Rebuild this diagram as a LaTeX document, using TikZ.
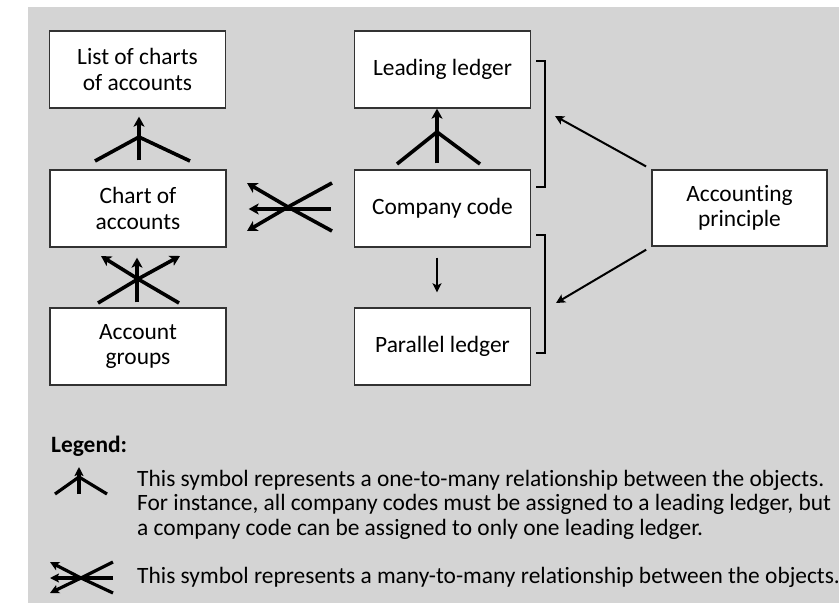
\documentclass[tikz,border=0pt]{standalone}
\usepackage{fontspec}
\setmainfont{Carlito}[Ligatures={NoCommon,NoDiscretionary,NoContextual}]
\usetikzlibrary{arrows.meta}
\definecolor{bggray}{RGB}{212,212,212}
\definecolor{boxline}{RGB}{50,50,50}
\begin{document}
\begin{tikzpicture}[x=1bp,y=-1bp,
  objbox/.style={draw=boxline,line width=1.3bp,fill=white,minimum width=176bp,minimum height=77bp,inner sep=0pt,align=center,font=\fontsize{23.5}{25.5}\selectfont},
  symline/.style={line width=3.6bp,line cap=butt},
  symarrow/.style={symline,-{Stealth[length=10bp,width=11bp,inset=2.5bp]}},
  thinarrow/.style={line width=2bp,-{Stealth[length=9bp,width=9bp,inset=2bp]}},
  legarrow/.style={symline,line width=3.2bp,-{Stealth[length=9bp,width=9bp,inset=2bp]}},
  bracketline/.style={line width=2.6bp},
  legendtext/.style={anchor=base west,inner sep=0pt,font=\fontsize{23.5}{25}\selectfont}]
\useasboundingbox (0,0) rectangle (839,613);
\fill[bggray] (28,7) rectangle (839,603);
% objects
\node[objbox] (lca) at (137.5,69.5) {List of charts\\of accounts};
\node[objbox] (coa) at (138,208.5) {Chart of\\accounts};
\node[objbox] (ag) at (138,346.5) {Account\\groups};
\node[objbox] (ll) at (442.5,69.5) {Leading ledger};
\node[objbox] (cc) at (442.5,208.5) {Company code};
\node[objbox] (pl) at (442.5,346.5) {Parallel ledger};
\node[objbox,minimum width=175bp,minimum height=76bp] (ap) at (739.5,208) {Accounting\\principle};
% one-to-many: chart of accounts -> list of charts
\coordinate (o1) at (139,137);
\draw[symline] (95,161) -- (o1) -- (190,161);
\draw[symarrow,shorten <=9bp,shorten >=8bp] ([xshift=1bp]coa.north) -- ([xshift=1.5bp]lca.south);
% one-to-many: company code -> leading ledger
\coordinate (o2) at (437,132);
\draw[symline] (397,164) -- (o2) -- (480,164);
\draw[symarrow,shorten <=6bp] ([xshift=-5.5bp]cc.north) -- ([xshift=-5.5bp]ll.south);
% many-to-many: company code <-> chart of accounts
\coordinate (m1) at (288,207);
\draw[symarrow,shorten <=23bp,shorten >=22bp] ([yshift=-0.5bp]cc.west) -- ([yshift=-0.5bp]coa.east);
\draw[symarrow] (332,183) -- (m1) -- (247,231);
\draw[symarrow] (332,231) -- (m1) -- (247,183);
% many-to-many: account groups <-> chart of accounts
\coordinate (m2) at (138,279);
\draw[symarrow,shorten <=5bp,shorten >=10bp] ([xshift=-1bp]ag.north) -- ([xshift=-1bp]coa.south);
\draw[symarrow] (179,303) -- (m2) -- (101,256);
\draw[symarrow] (98,303) -- (m2) -- (180,256);
% company code -> parallel ledger
\draw[thinarrow,shorten <=10bp,shorten >=15bp] ([xshift=-5.5bp]cc.south) -- ([xshift=-5.5bp]pl.north);
% brackets
\draw[bracketline] (536,61) -- (545,61) -- (545,187) -- (536,187);
\draw[bracketline] (536,235) -- (545,235) -- (545,353) -- (536,353);
\coordinate (bt) at (555,116);
\coordinate (bb) at (556,303);
\draw[thinarrow,shorten <=6bp] (ap.north west) -- (bt);
\draw[thinarrow,shorten <=6bp] (ap.south west) -- (bb);
% legend
\node[legendtext,font=\fontsize{23.5}{25}\selectfont\bfseries] (lg) at (51,452) {Legend:};
\coordinate (lo) at (79,477);
\draw[symline,line width=3.2bp] (55,494) -- (lo) -- (107,494);
\draw[legarrow] (79,494) -- (79,467);
\node[legendtext] (t1) at (137,486) {This symbol represents a one-to-many relationship between the objects.};
\node[legendtext] (t2) at (137,510.5) {For instance, all company codes must be assigned to a leading ledger, but};
\node[legendtext] (t3) at (137,535) {a company code can be assigned to only one leading ledger.};
\coordinate (lm) at (81,578);
\draw[legarrow] (113,578) -- (50,578);
\draw[legarrow] (113,562) -- (lm) -- (50,593);
\draw[legarrow] (113,593) -- (lm) -- (50,562);
\node[legendtext] (t4) at (137,583) {This symbol represents a many-to-many relationship between the objects.};
\end{tikzpicture}
\end{document}
